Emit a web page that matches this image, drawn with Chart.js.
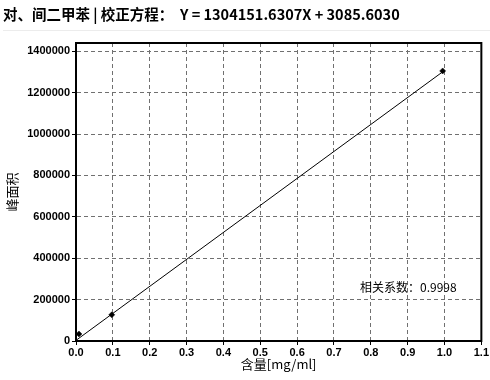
<!DOCTYPE html>
<html>
<head>
<meta charset="utf-8">
<script src="https://cdn.jsdelivr.net/npm/chart.js@4.4.1/dist/chart.umd.min.js"></script>
<style>
  html, body { margin: 0; padding: 0; background: #fff; }
  #wrap { width: 490px; height: 380px; position: relative; }
</style>
</head>
<body>
<div id="wrap"><canvas id="myChart"></canvas></div>
<script>
// chart data
const titleText = "对、间二甲苯 | 校正方程：  Y = 1304151.6307X + 3085.6030";
const xTitle = "含量[mg/ml]";
const yTitle = "峰面积";
const corrText = "相关系数：0.9998";

const pointX = [0.008, 0.097, 0.995];
const pointY = [34000, 126500, 1305000];
const fitX = [0, 1.0];
const fitY = [3086, 1307237];

const xMin = 0, xMax = 1.1, xStep = 0.1;
const yMin = 0, yMax = 1440000;
const yTicks = [0, 200000, 400000, 600000, 800000, 1000000, 1200000, 1400000];

// title, frame and annotation
const decorations = {
  id: "decorations",
  beforeDraw(chart) {
    const ctx = chart.ctx;
    ctx.save();
    ctx.strokeStyle = "#ececec";
    ctx.lineWidth = 1;
    ctx.beginPath();
    ctx.moveTo(3, 30.5);
    ctx.lineTo(490, 30.5);
    ctx.stroke();
    ctx.fillStyle = "#000";
    ctx.font = "bold 14.5px 'Noto Sans CJK SC', sans-serif";
    ctx.textBaseline = "middle";
    ctx.textAlign = "left";
    ctx.fillText(titleText, 3, 14);
    ctx.restore();
  },
  afterDraw(chart) {
    const ctx = chart.ctx;
    const a = chart.chartArea;
    ctx.save();
    ctx.strokeStyle = "#000";
    ctx.lineWidth = 2;
    ctx.strokeRect(a.left, a.top, a.right - a.left, a.bottom - a.top);
    ctx.fillStyle = "#000";
    ctx.font = "12px 'Noto Sans CJK SC', sans-serif";
    ctx.textBaseline = "middle";
    ctx.textAlign = "left";
    ctx.fillText(corrText, a.left + 284, 287);
    ctx.restore();
  }
};

const tickFont = { family: "'Liberation Sans', Arial, sans-serif", size: 11, weight: "bold" };

const ctx = document.getElementById("myChart").getContext("2d");
new Chart(ctx, {
  type: "scatter",
  data: {
    datasets: [
      {
        label: "fit",
        type: "line",
        data: fitX.map((x, i) => ({ x: x, y: fitY[i] })),
        borderColor: "#000",
        borderWidth: 1,
        pointRadius: 0,
        fill: false,
        tension: 0,
      },
      {
        label: "points",
        data: pointX.map((x, i) => ({ x: x, y: pointY[i] })),
        backgroundColor: "#000",
        borderColor: "#000",
        pointStyle: "rectRot",
        pointRadius: 3,
        borderWidth: 0.5,
      },
    ],
  },
  options: {
    responsive: true,
    maintainAspectRatio: false,
    animation: false,
    layout: { padding: { top: 43, right: 8, left: 0, bottom: 0 } },
    plugins: {
      legend: { display: false },
      tooltip: { enabled: false },
    },
    scales: {
      x: {
        type: "linear",
        min: xMin,
        max: xMax,
        afterFit(axis) { axis.height = 39; },
        ticks: {
          stepSize: xStep,
          color: "#000",
          font: tickFont,
          padding: 1,
          maxRotation: 0,
          autoSkip: false,
          callback: (v) => v.toFixed(1),
        },
        grid: {
          color: (c) => (c.index === 0 ? "rgba(0,0,0,0)" : "#707070"),
          tickColor: "#000",
          tickLength: 4,
          tickBorderDash: [],
          lineWidth: 1,
        },
        border: { display: true, color: "#000", width: 2, dash: [4, 3] },
        title: {
          display: true,
          text: xTitle,
          color: "#000",
          font: { family: "'Noto Sans CJK SC', sans-serif", size: 13 },
          padding: { top: 0, bottom: 8 },
        },
      },
      y: {
        type: "linear",
        min: yMin,
        max: yMax,
        afterFit(axis) { axis.width = 76; },
        afterBuildTicks(axis) {
          axis.ticks = yTicks.map((v) => ({ value: v }));
        },
        ticks: {
          color: "#000",
          font: tickFont,
          padding: 2,
          autoSkip: false,
          callback: (v) => String(v),
        },
        grid: {
          color: (c) => (c.tick && c.tick.value === 0 ? "rgba(0,0,0,0)" : "#707070"),
          tickColor: "#000",
          tickLength: 4,
          tickBorderDash: [],
          lineWidth: 1,
        },
        border: { display: true, color: "#000", width: 2, dash: [4, 3] },
        title: {
          display: true,
          text: yTitle,
          color: "#000",
          font: { family: "'Noto Sans CJK SC', sans-serif", size: 13 },
          padding: { top: 4, bottom: 0 },
        },
      },
    },
  },
  plugins: [decorations],
});
</script>
</body>
</html>
